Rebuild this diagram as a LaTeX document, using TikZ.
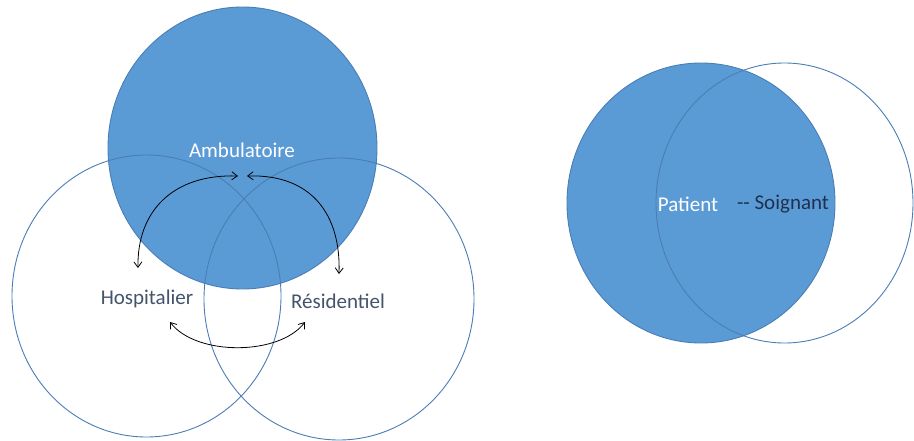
\documentclass[tikz,border=0pt]{standalone}
\usepackage{fontspec}
\setmainfont{Carlito}
\usetikzlibrary{shapes.geometric,arrows.meta}
\definecolor{fillblue}{HTML}{5B9BD5}
\definecolor{edgeblue}{HTML}{4A7DB6}
\definecolor{labelgray}{HTML}{44546A}
\definecolor{darknavy}{HTML}{1F3050}
\begin{document}
\begin{tikzpicture}[x=1pt,y=-1pt,
  disc/.style={ellipse,inner sep=0pt,outer sep=0pt,draw=edgeblue,line width=0.9pt},
  lbl/.style={font=\fontsize{21}{25}\selectfont,inner sep=0pt},
  arr/.style={{Straight Barb[length=5.5pt,width=8pt]}-{Straight Barb[length=5.5pt,width=8pt]},line width=0.8pt,black}]
\useasboundingbox (0,0) rectangle (914,441);
% left group
\node[disc,fill=fillblue,minimum width=269pt,minimum height=282pt] (amb) at (242.5,148) {};
\node[disc,minimum width=269pt,minimum height=282pt] (hos) at (146.5,296) {};
\node[disc,minimum width=270pt,minimum height=282pt] (res) at (339,299) {};
\node[lbl,text=white] (tamb) at (242,150) {Ambulatoire};
\node[lbl,text=labelgray] (thos) at (147,299) {Hospitalier};
\node[lbl,text=labelgray] (tres) at (338,301) {Résidentiel};
\coordinate (a1) at (238,176);
\coordinate (a2) at (138,268);
\coordinate (b1) at (247,176);
\coordinate (b2) at (339,274);
\coordinate (c1) at (170,322);
\coordinate (c2) at (305,322);
\draw[arr] (a1) .. controls (172,174) and (137,212) .. (a2);
\draw[arr] (b1) .. controls (312,174) and (341,215) .. (b2);
\draw[arr] (c1) .. controls (196,356) and (279,356) .. (c2);
% right group
\node[disc,fill=fillblue,minimum width=268pt,minimum height=280pt] (pat) at (701,203) {};
\node[disc,minimum width=257pt,minimum height=280pt] (soi) at (784.5,203) {};
\node[lbl,text=white] (tpat) at (688,204) {Patient};
\node[lbl,text=darknavy] (tsoi) at (783,204) {\mbox{-}\mbox{-} Soignant};
\end{tikzpicture}
\end{document}
